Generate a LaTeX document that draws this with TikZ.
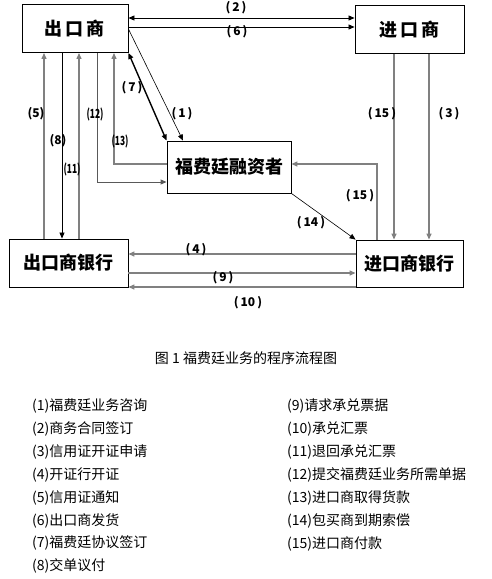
\documentclass[tikz,border=0pt]{standalone}
\usepackage{fontspec}
\setmainfont{Noto Sans CJK SC}
\usetikzlibrary{arrows.meta}
\tikzstyle{box}=[%
  draw,
  line width=0.9pt,
  minimum height=48pt,
  inner sep=0pt,
  font=\fontsize{18}{18}\selectfont\bfseries
]
\tikzstyle{lab}=[inner sep=0pt, font=\fontsize{12}{12}\selectfont\bfseries]
\tikzstyle{flow}=[line width=0.8pt, -{Triangle[length=6pt,width=5pt]}]
\tikzstyle{pale}=[flow, draw=black!50, line width=1.3pt]
\tikzstyle{item}=[anchor=west, inner sep=0pt, font=\fontsize{14}{14}\selectfont]

\begin{document}
\begin{tikzpicture}[x=1pt, y=-1pt]
  \useasboundingbox (0,0) rectangle (491,579);
  % parties
  \node[box, minimum width=106pt] (exp) at (75,28.5) {出\,口\,商};
  \node[box, minimum width=109pt] (imp) at (409.5,29.5) {进\,口\,商};
  \node[box, minimum width=124pt, minimum height=52pt] (fin) at (229,167) {福费廷融资者};
  \node[box, minimum width=119pt] (expbank) at (68.5,263) {出口商银行};
  \node[box, minimum width=107pt, minimum height=47pt] (impbank) at (409.5,263.5) {进口商银行};
  % exporter <-> importer
  \draw[flow, {Triangle[length=6pt,width=5pt]}-{Triangle[length=6pt,width=5pt]}] (exp.east |- 0,18) -- (imp.west |- 0,18);
  \draw[flow] (exp.east |- 0,27) -- (imp.west |- 0,27);
  \draw[flow, line width=0.6pt] (exp.east |- 0,29) -- (fin.north -| 183,0);
  \draw[flow, line width=1.4pt, {Triangle[length=6pt,width=5pt]}-{Triangle[length=6pt,width=5pt]}] (exp.south east) -- (fin.north west);
  % exporter side
  \draw[pale] (expbank.north -| 44,0) -- (exp.south -| 44,0);
  \draw[flow] (exp.south -| 62,0) -- (expbank.north -| 62,0);
  \draw[pale] (expbank.north -| 79,0) -- (exp.south -| 79,0);
  \draw[pale, draw=black!65, line width=1pt] (exp.south -| 97,0) |- (fin.west |- 0,182);
  \draw[pale] (fin.west |- 0,164) -| (exp.south -| 114,0);
  % importer side
  \draw[pale] (imp.south -| 394,0) -- (impbank.north -| 394,0);
  \draw[pale] (imp.south -| 429,0) -- (impbank.north -| 429,0);
  \draw[pale] (impbank.north -| 377,0) |- (fin.east |- 0,164);
  \draw[flow, line width=0.6pt] (fin.south east) -- (impbank.north west);
  % banks
  \draw[pale] (impbank.west |- 0,254) -- (expbank.east |- 0,254);
  \draw[pale] (expbank.east |- 0,273) -- (impbank.west |- 0,273);
  \draw[pale] (impbank.west |- 0,287) -- (expbank.east |- 0,287);
  % step numbers
  \foreach \x/\y/\t [count=\i] in {236/7.5/2, 237/32/6, 182/114/1, 132/88/7,
      382/114/15, 449/114/3, 360/196/15, 311/223/14, 196/250/4, 223/278/9, 248/303/10} {%
    \node[lab] (n\i) at (\x,\y) {(\,\t\,)};
  }
  \foreach \x/\y/\t [count=\i] in {36/114/5, 58/141/8} {%
    \node[lab] (k\i) at (\x,\y) {(\t)};
  }
  \foreach \x/\y/\t [count=\i] in {72/169/11, 95/114/12, 120/141/13} {%
    \node[lab] (m\i) at (\x,\y) {\scalebox{0.7}[1.05]{(\t)}};
  }
  % caption and legend
  \node[inner sep=0pt, font=\fontsize{14}{14}\selectfont] (cap) at (246,358) {图 1 福费廷业务的程序流程图};
  \foreach \t [count=\i from 0] in {{(1)福费廷业务咨询}, {(2)商务合同签订}, {(3)信用证开证申请},
      {(4)开证行开证}, {(5)信用证通知}, {(6)出口商发货}, {(7)福费廷协议签订}, {(8)交单议付}} {%
    \node[item] (l\i) at (32,406+22.9*\i) {\t};
  }
  \foreach \t [count=\i from 0] in {{(9)请求承兑票据}, {(10)承兑汇票}, {(11)退回承兑汇票},
      {(12)提交福费廷业务所需单据}, {(13)进口商取得货款}, {(14)包买商到期索偿}, {(15)进口商付款}} {%
    \node[item] (r\i) at (287,406+23*\i) {\t};
  }
\end{tikzpicture}
\end{document}
